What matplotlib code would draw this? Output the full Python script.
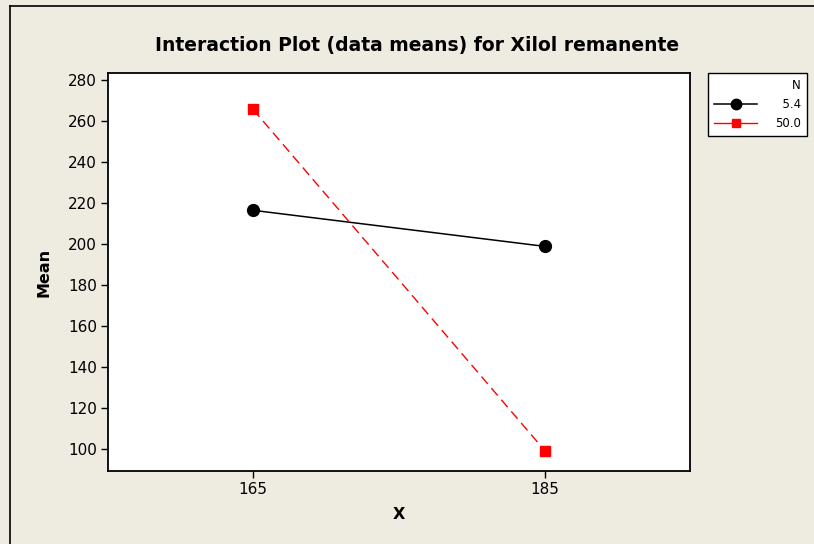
import matplotlib.pyplot as plt
from matplotlib.lines import Line2D

# data means
x_levels = [165, 185]
n_labels = ['5.4', '50.0']
mean_n54 = [216.6, 199.0]
mean_n50 = [265.8, 99.3]
y_ticks = [100, 120, 140, 160, 180, 200, 220, 240, 260, 280]

bg = '#EEEBE0'
W, H = 814, 544

fig = plt.figure(figsize=(W / 100, H / 100), dpi=100, facecolor=bg)
ax = fig.add_axes([108 / W, 1 - 471 / H, 582 / W, 398 / H])
ax.set_facecolor('white')

# series
ax.plot(x_levels, mean_n54, color='black', lw=1.1, marker='o', ms=8.5,
        label=n_labels[0])
ax.plot(x_levels, mean_n50, color='red', lw=1.0, ls=(0, (7, 4)),
        marker='s', ms=6.5, label=n_labels[1])

ax.set_xlim(155.05, 194.95)
ax.set_ylim(89.4, 283.6)
ax.set_xticks(x_levels)
ax.set_yticks(y_ticks)
ax.tick_params(labelsize=11, length=5, width=1, direction='out', pad=3)
for sp in ax.spines.values():
    sp.set_linewidth(1.3)

ax.set_xlabel('X', fontsize=11.5, fontweight='bold', labelpad=7)
ax.set_ylabel('Mean', fontsize=11.5, fontweight='bold', labelpad=12)
fig.text(417 / W, 1 - 46 / H, 'Interaction Plot (data means) for Xilol remanente',
         ha='center', va='center', fontsize=13.5, fontweight='bold')

# legend, labels right-aligned with figure spaces
width = max(len(s) for s in n_labels)
leg_labels = [s.rjust(width, '\u2007') for s in n_labels]
handles = [Line2D([], [], color='black', lw=1.1, marker='o', ms=7.5),
           Line2D([], [], color='red', lw=1.0, marker='s', ms=6)]
leg = fig.legend(handles, leg_labels, title='N', loc='upper left',
                 bbox_to_anchor=(708 / W, 1 - 72.5 / H), fontsize=8.5,
                 title_fontsize=8.5, alignment='right', frameon=True,
                 fancybox=False, handlelength=3.6, handletextpad=1.5,
                 borderpad=0.55, labelspacing=0.5, borderaxespad=0)
leg.get_frame().set_edgecolor('black')
leg.get_frame().set_facecolor('white')
leg.get_frame().set_alpha(1)
leg.get_frame().set_linewidth(1.0)

# outer frame (only left and top edges are visible in the image)
fig.add_artist(Line2D([10 / W, 10 / W], [0, 1 - 6 / H], color='black', lw=1.2,
                      transform=fig.transFigure))
fig.add_artist(Line2D([10 / W, 1], [1 - 6 / H, 1 - 6 / H], color='black', lw=1.2,
                      transform=fig.transFigure))

fig.savefig('out.png', dpi=100, facecolor=bg)
